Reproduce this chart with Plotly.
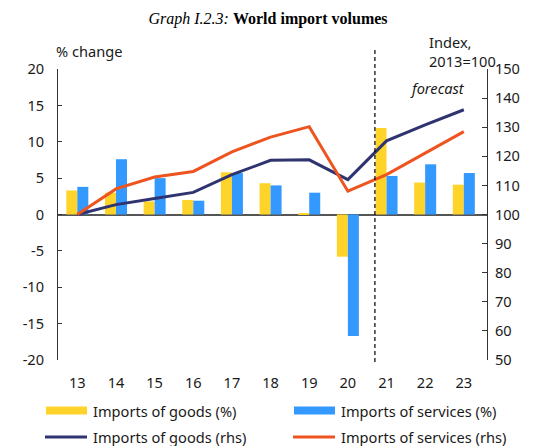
import plotly.graph_objects as go

years = ['13', '14', '15', '16', '17', '18', '19', '20', '21', '22', '23']
goods_pct = [3.3, 3.0, 1.8, 2.0, 5.8, 4.3, 0.2, -5.8, 11.9, 4.4, 4.1]
services_pct = [3.8, 7.6, 5.0, 1.9, 5.7, 4.0, 3.0, -16.7, 5.3, 6.9, 5.7]
goods_idx = [100, 103.4, 105.5, 107.6, 113.7, 118.6, 118.8, 112.0, 125.3, 130.8, 136.0]
services_idx = [100, 108.8, 112.9, 114.8, 121.5, 126.6, 130.2, 108.0, 113.7, 121.0, 128.5]

left_ticks = [20, 15, 10, 5, 0, -5, -10, -15, -20]
left_labels = ['20', '15', '10', '5', '0', '-5', '-10', '-15', '-20']
right_ticks = [150, 140, 130, 120, 110, 100, 90, 80, 70, 60, 50]

legend_names = ['Imports of goods (%)', 'Imports of services (%)',
                'Imports of goods (rhs)', 'Imports of services (rhs)']

YELLOW = '#FFD42A'
BLUE = '#3399FF'
NAVY = '#2F3470'
ORANGE = '#EE5420'
FONT = 'Noto Sans'
FS = 14.6
TXT = '#1a1a1a'

# the page body adds an 8px offset; positions below are screen pixels
OFF = 8
FW, FH = 537 - OFF, 446 - OFF
L, R, T, B = 58, 487, 69, 360
W, H = R - L, B - T


def px(x):
    return (x - L) / W


def py(y):
    return (B - y) / H


fig = go.Figure()
fig.add_trace(go.Bar(x=years, y=goods_pct, marker_color=YELLOW, showlegend=False,
                     marker_line_width=0, name=legend_names[0]))
fig.add_trace(go.Bar(x=years, y=services_pct, marker_color=BLUE, showlegend=False,
                     marker_line_width=0, name=legend_names[1]))
fig.add_trace(go.Scatter(x=years, y=goods_idx, yaxis='y2', mode='lines',
                         line=dict(color=NAVY, width=3), showlegend=False, name=legend_names[2]))
fig.add_trace(go.Scatter(x=years, y=services_idx, yaxis='y2', mode='lines',
                         line=dict(color=ORANGE, width=3), showlegend=False, name=legend_names[3]))

# forecast divider
fig.add_shape(type='line', xref='x', yref='paper', x0=7.7, x1=7.7, y0=py(362), y1=py(50),
              line=dict(color='black', width=1.2, dash='4px,3px'))

# manual legend
legend_items = [
    (legend_names[0], YELLOW, 'rect', 46, 410.5),
    (legend_names[1], BLUE, 'rect', 294, 410.5),
    (legend_names[2], NAVY, 'line', 45, 437),
    (legend_names[3], ORANGE, 'line', 293, 437),
]
for name, col, kind, lx, ly in legend_items:
    if kind == 'rect':
        fig.add_shape(type='rect', xref='paper', yref='paper', x0=px(lx), x1=px(lx + 41),
                      y0=py(ly + 4), y1=py(ly - 4), line=dict(width=0), fillcolor=col)
    else:
        fig.add_shape(type='line', xref='paper', yref='paper', x0=px(lx), x1=px(lx + 42),
                      y0=py(ly), y1=py(ly), line=dict(color=col, width=3))
    fig.add_annotation(text=name, xref='paper', yref='paper', x=px(91), y=py(ly),
                       showarrow=False, xanchor='left', yanchor='middle',
                       font=dict(family=FONT, size=FS, color=TXT))
    if lx > 200:
        fig.layout.annotations[-1].x = px(339)

fig.add_annotation(text='<i>forecast</i>', xref='paper', yref='paper',
                   x=px(437), y=py(88), showarrow=False,
                   font=dict(family=FONT, size=FS, color=TXT), xanchor='center', yanchor='middle')
fig.add_annotation(text='% change', xref='paper', yref='paper',
                   x=px(54), y=py(51), showarrow=False,
                   font=dict(family=FONT, size=FS, color=TXT), xanchor='left', yanchor='middle')
fig.add_annotation(text='Index,<br>2013=100', xref='paper', yref='paper', align='left',
                   x=px(427), y=py(51), showarrow=False,
                   font=dict(family=FONT, size=FS, color=TXT), xanchor='left', yanchor='middle')

fig.update_layout(
    width=FW, height=FH,
    margin=dict(l=L - OFF, r=FW - (R - OFF), t=T - OFF, b=FH - (B - OFF), autoexpand=False),
    paper_bgcolor='white', plot_bgcolor='white',
    barmode='group', bargap=0.43, bargroupgap=0,
    showlegend=False,
    font=dict(family=FONT, size=FS, color=TXT),
    title=dict(text='<i>Graph I.2.3:</i> <b>World import volumes</b>',
               font=dict(family='Liberation Serif', size=16, color='black'),
               x=(268 - OFF) / FW, xref='container', xanchor='center',
               y=1 - (18 - OFF) / FH, yanchor='middle'),
    xaxis=dict(type='category', range=[-0.5, 10.6], showline=False, showgrid=False,
               ticks='', ticklabelstandoff=12, tickfont=dict(size=FS), automargin=False),
    yaxis=dict(range=[-20, 20], tickvals=left_ticks, ticktext=left_labels, showgrid=False,
               zeroline=True, zerolinecolor='#555555', zerolinewidth=1.5, showline=True,
               linecolor='#333333', linewidth=1, ticks='inside', ticklen=4,
               tickcolor='#333333', ticklabelstandoff=10, automargin=False),
    yaxis2=dict(range=[50, 150], tickvals=right_ticks, overlaying='y', side='right',
                showgrid=False, zeroline=False, showline=True, linecolor='#333333',
                linewidth=1, ticks='inside', ticklen=5, tickcolor='#333333',
                ticklabelstandoff=4, automargin=False),
)

fig.write_html('out.html')
